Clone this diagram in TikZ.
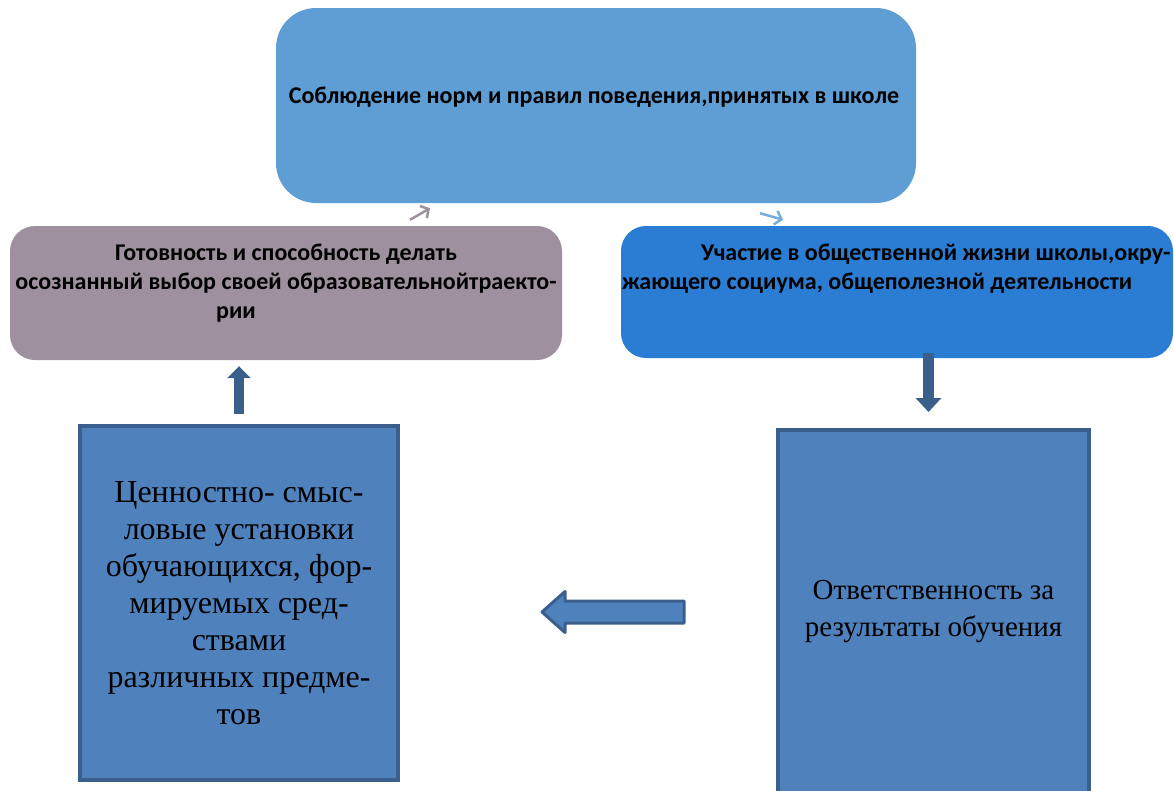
\documentclass[tikz,border=0pt]{standalone}
\usepackage{fontspec}
\setmainfont{Liberation Serif}
\newfontfamily\calibri{Carlito}
\usetikzlibrary{arrows.meta,positioning}
\definecolor{normBlue}{HTML}{5E9ED4}
\definecolor{choiceMauve}{HTML}{9E909F}
\definecolor{socialBlue}{HTML}{2A7DD3}
\definecolor{boxBlue}{HTML}{4F81BD}
\definecolor{boxEdge}{HTML}{3B5F8C}
\definecolor{arrowInk}{HTML}{3A5F8A}
\tikzset{
  roundbox/.style={rounded corners=25pt, inner sep=0pt},
  headtext/.style={font=\calibri\bfseries\fontsize{24}{29}\selectfont, text=black, inner sep=0pt},
  squarebox/.style={fill=boxBlue, draw=boxEdge, line width=4pt, inner sep=0pt},
  bodytext/.style={font=\fontsize{29}{37}\selectfont, align=center, text=black},
  thickarr/.style={draw=arrowInk, line width=10pt, -{Triangle[width=23pt,length=12pt]}},
  thinarr/.style={line width=2.5pt, -{Straight Barb[length=6pt,width=14pt]}},
}

\begin{document}
\begin{tikzpicture}[x=1pt,y=-1pt]
  \useasboundingbox (0,0) rectangle (1174,790);
  \clip (0,0) rectangle (1174,790);

  % rounded boxes
  \node[roundbox, fill=normBlue, rounded corners=40pt, minimum width=640pt, minimum height=195pt] (norms) at (596,105.5) {};
  \node[roundbox, fill=choiceMauve, minimum width=552pt, minimum height=134pt] (choice) at (286,293) {};
  \node[roundbox, fill=socialBlue, minimum width=552pt, minimum height=132pt] (social) at (897,292) {};

  \node[headtext] (normstext) at ([xshift=-2pt,yshift=8pt]norms.center) {Соблюдение норм и правил поведения,принятых в школе};
  \node[headtext, align=center, below=18pt of choice.north] (choicetext)
    {Готовность и способность делать\\
     осознанный выбор своей образовательнойтраекто-\\
     рии\hspace*{100pt}};
  \node[headtext, align=left, anchor=north west] (socialtext) at ([xshift=1pt,yshift=-18pt]social.north west)
    {\hspace*{79pt}Участие в общественной жизни школы,окру-\\
     жающего социума, общеполезной деятельности};

  % square boxes
  \node[squarebox, bodytext, font=\fontsize{32}{37}\selectfont, minimum width=318pt, minimum height=354pt] (values) at (239,603)
    {Ценностно- смыс-\\ловые установки\\обучающихся, фор-\\мируемых сред-\\ствами\\различных предме-\\тов};
  \node[squarebox, bodytext, minimum width=311pt, minimum height=364pt] (duty) at (933.5,612)
    {Ответственность за\\результаты обучения};

  % arrows
  \draw[thickarr, shorten <=10pt, shorten >=6pt] (values.north) -- (values.north |- choice.south);
  \draw[thickarr, line width=11pt, -{Triangle[width=25pt,length=14pt]}, shorten <=-5pt, shorten >=16pt]
    ([xshift=-5pt]duty.north |- social.south) -- ([xshift=-5pt]duty.north);
  \coordinate (backstart) at ([xshift=-92pt]duty.west);
  \draw[fill=boxBlue, draw=boxEdge, line width=3pt, line join=round]
    (backstart) ++(0,-11) -- ++(-119,0) -- ++(0,-9.5) -- ++(-23,20.5) -- ++(23,20.5)
    -- ++(0,-9.5) -- ++(119,0) -- cycle;

  \coordinate (choicetip) at ([xshift=124pt,yshift=6pt]choice.north);
  \coordinate (normsfoot) at ([xshift=-166pt,yshift=-5pt]norms.south);
  \draw[thinarr, draw=choiceMauve] (choicetip) -- (normsfoot);
  \coordinate (normsfoot2) at ([xshift=164pt,yshift=-10pt]norms.south);
  \coordinate (socialtip) at ([xshift=-114pt,yshift=6pt]social.north);
  \draw[thinarr, draw=normBlue!85!white] (normsfoot2) -- (socialtip);
\end{tikzpicture}
\end{document}
